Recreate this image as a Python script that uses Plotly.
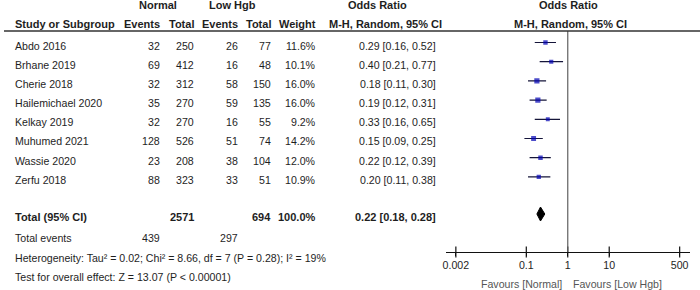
import math
import plotly.graph_objects as go

# ---------------- data ----------------
studies = ["Abdo 2016", "Brhane 2019", "Cherie 2018", "Hailemichael 2020",
           "Kelkay 2019", "Muhumed 2021", "Wassie 2020", "Zerfu 2018"]
normal_events = [32, 69, 32, 35, 32, 128, 23, 88]
normal_total = [250, 412, 312, 270, 270, 526, 208, 323]
low_events = [26, 16, 58, 59, 16, 51, 38, 33]
low_total = [77, 48, 150, 135, 55, 74, 104, 51]
weight = [11.6, 10.1, 16.0, 16.0, 9.2, 14.2, 12.0, 10.9]
or_est = [0.29, 0.40, 0.18, 0.19, 0.33, 0.15, 0.22, 0.20]
ci_lo = [0.16, 0.21, 0.11, 0.12, 0.16, 0.09, 0.12, 0.11]
ci_hi = [0.52, 0.77, 0.30, 0.31, 0.65, 0.25, 0.39, 0.38]

total_normal = 2571
total_low = 694
total_weight = 100.0
events_normal = 439
events_low = 297
pooled = [0.22, 0.18, 0.28]  # estimate, lower, upper

heterogeneity = "Heterogeneity: Tau² = 0.02; Chi² = 8.66, df = 7 (P = 0.28); I² = 19%"
overall = "Test for overall effect: Z = 13.07 (P < 0.00001)"

tick_vals = [0.002, 0.1, 1, 10, 500]
tick_text = ["0.002", "0.1", "1", "10", "500"]

# ---------------- layout helpers ----------------
W, H = 700, 290
FONT = "Liberation Sans, Arial, sans-serif"
TXT = "#1e1e1e"
FS = 10.6
FSB = 11

row0, row_step = 45.5, 19.2
rows = [row0 + i * row_step for i in range(len(studies))]
y_total = 216.5
y_events = 238
y_het = 257.5
y_test = 276.5
axis_y = 252
head_line_y = 31

# forest panel pixel geometry
px_left, px_right = 445, 690
px_one = 567
px_decade = 41.7
xr = [(px_left - px_one) / px_decade, (px_right - px_one) / px_decade]

fig = go.Figure()
annotations = []


def txt(x, y, s, anchor="left", bold=False, color=TXT, size=None):
    if size is None:
        size = FSB if bold else FS
    if bold:
        s = "<b>" + s + "</b>"
    annotations.append(dict(
        x=x / W, y=1 - y / H, xref="paper", yref="paper", text=s,
        showarrow=False, xanchor=anchor, yanchor="middle",
        font=dict(family=FONT, size=size, color=color)))


# headers
txt(155, 5, "Normal", "center", True)
txt(230, 5, "Low Hgb", "center", True)
txt(376, 5, "Odds Ratio", "center", True)
txt(568, 5, "Odds Ratio", "center", True)
txt(9, 24, "Study or Subgroup", "left", True)
txt(159, 24, "Events", "right", True)
txt(193, 24, "Total", "right", True)
txt(237, 24, "Events", "right", True)
txt(271, 24, "Total", "right", True)
txt(316, 24, "Weight", "right", True)
txt(384, 24, "M-H, Random, 95% CI", "center", True)
txt(570, 24, "M-H, Random, 95% CI", "center", True)

# study rows
for i, y in enumerate(rows):
    txt(9, y, studies[i])
    txt(159, y, str(normal_events[i]), "right")
    txt(193, y, str(normal_total[i]), "right")
    txt(237, y, str(low_events[i]), "right")
    txt(271, y, str(low_total[i]), "right")
    txt(316, y, f"{weight[i]:.1f}%", "right")
    txt(436, y, f"{or_est[i]:.2f} [{ci_lo[i]:.2f}, {ci_hi[i]:.2f}]", "right")

# total
txt(9, y_total, "Total (95% CI)", "left", True)
txt(193, y_total, str(total_normal), "right", True)
txt(271, y_total, str(total_low), "right", True)
txt(316, y_total, f"{total_weight:.1f}%", "right", True)
txt(436, y_total, f"{pooled[0]:.2f} [{pooled[1]:.2f}, {pooled[2]:.2f}]", "right", True)

txt(9, y_events, "Total events")
txt(159, y_events, str(events_normal), "right")
txt(237, y_events, str(events_low), "right")
txt(9, y_het, heterogeneity)
txt(9, y_test, overall)

txt(520, 284, "Favours [Normal]", "center", color="#555555")
txt(617, 284, "Favours [Low Hgb]", "center", color="#555555")

# ---------------- forest marks ----------------
mark_y = [y - 3 for y in rows]
cx, cy = [], []
for i in range(len(studies)):
    cx += [ci_lo[i], ci_hi[i], None]
    cy += [mark_y[i], mark_y[i], None]
fig.add_trace(go.Scatter(x=cx, y=cy, mode="lines",
                         line=dict(color="#15153a", width=1.2),
                         hoverinfo="skip", showlegend=False))
fig.add_trace(go.Scatter(
    x=or_est, y=mark_y, mode="markers",
    marker=dict(symbol="square", color="#0000b4",
                size=[5.2 * math.sqrt(w / 16.0) for w in weight], line=dict(width=0)),
    showlegend=False))

dy = y_total - 2.5
fig.add_trace(go.Scatter(
    x=[pooled[1], pooled[0], pooled[2], pooled[0], pooled[1]],
    y=[dy, dy - 7, dy, dy + 7, dy],
    mode="lines", fill="toself", fillcolor="#000000",
    line=dict(color="#000000", width=1), showlegend=False))

# tick crosses on axis
fig.add_trace(go.Scatter(
    x=tick_vals, y=[axis_y] * len(tick_vals), mode="markers",
    marker=dict(symbol="line-ns", size=8, line=dict(color="#111111", width=1.2)),
    cliponaxis=False, showlegend=False, hoverinfo="skip"))

# vertical line at 1 and header rule
fig.add_shape(type="line", xref="x", yref="y", x0=1, x1=1,
              y0=head_line_y, y1=axis_y, line=dict(color="#606060", width=1.2))
fig.add_shape(type="line", xref="paper", yref="paper", x0=0, x1=1,
              y0=1 - head_line_y / H, y1=1 - head_line_y / H,
              line=dict(color="#333333", width=1.5))

fig.update_layout(
    width=W, height=H, margin=dict(l=0, r=0, t=0, b=0),
    paper_bgcolor="white", plot_bgcolor="white",
    annotations=annotations,
    xaxis=dict(type="log", range=xr, domain=[px_left / W, px_right / W],
               tickvals=tick_vals, ticktext=tick_text,
               ticks="outside", ticklen=3, tickcolor="#111111",
               showline=True, linecolor="#111111", linewidth=1.2,
               showgrid=False, zeroline=False,
               tickfont=dict(family=FONT, size=FS, color=TXT)),
    yaxis=dict(range=[axis_y, 0], domain=[1 - axis_y / H, 1],
               visible=False, showgrid=False, zeroline=False),
    showlegend=False,
)

fig.write_html("out.html", config={"displayModeBar": False},
               post_script="document.body.style.margin='0';document.body.style.padding='0';")
